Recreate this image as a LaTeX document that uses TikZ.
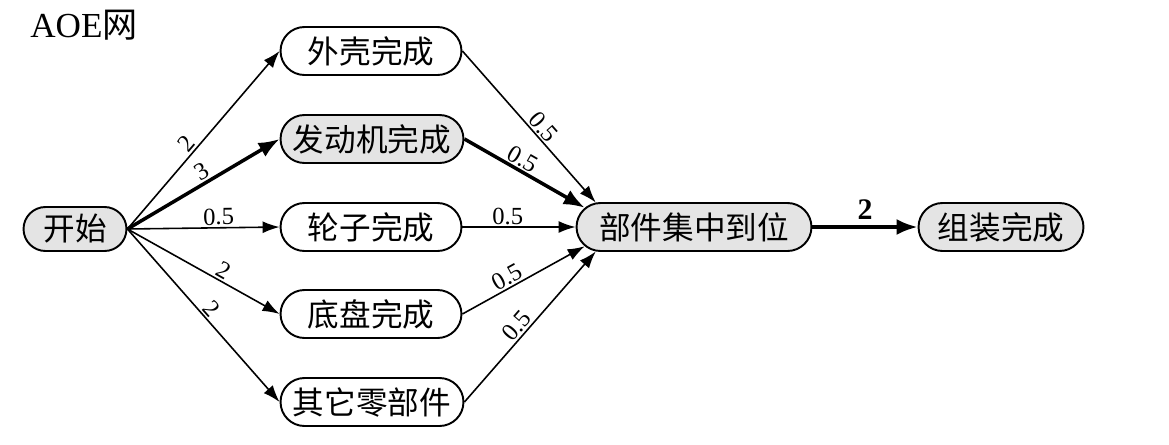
\documentclass[tikz,border=0pt]{standalone}
\usepackage{fontspec}
\setmainfont{Liberation Serif}
\newfontfamily\cjk{Noto Sans CJK SC}
\usetikzlibrary{positioning, arrows.meta, shapes.misc}
\definecolor{evgray}{HTML}{E4E4E4}

\begin{document}
\begin{tikzpicture}[x=0.02cm, y=-0.02cm,
    evt/.style={draw, rounded rectangle, line width=1.1pt, minimum height=0.96cm,
                inner sep=2pt, font=\cjk\fontsize{18}{20}\selectfont},
    shade/.style={evt, fill=evgray},
    arr/.style={-{Latex[length=3.4mm, width=2.4mm]}, line width=0.9pt},
    crit/.style={-{Latex[length=4.2mm, width=3.2mm]}, line width=2pt},
    wt/.style={font=\fontsize{14}{16}\selectfont, sloped, above, inner sep=1pt},
]
\useasboundingbox (0,0) rectangle (1169,444);
\node[anchor=west, inner sep=0pt, font=\fontsize{20}{22}\selectfont] (title) at (30,25) {AOE{\cjk 网}};

% events
\node[shade, minimum width=2.2cm, minimum height=0.88cm] (ks) at (75,229) {开始};
\node[evt, minimum width=3.76cm] (wk) at (371,51) {外壳完成};
\node[shade, minimum width=3.8cm] (fd) at (372,139) {发动机完成};
\node[evt, minimum width=3.76cm] (lz) at (371,227) {轮子完成};
\node[evt, minimum width=3.76cm] (dp) at (371,314) {底盘完成};
\node[evt, minimum width=3.8cm] (qt) at (372,402) {其它零部件};
\node[shade, minimum width=4.84cm] (bj) at (694,227) {部件集中到位};
\node[shade, minimum width=3.44cm] (zz) at (1001,227) {组装完成};

% activities
\draw[arr] (ks.east) -- (wk.west) node[wt, pos=0.44] {2};
\draw[crit] (ks.east) -- (fd.west) node[wt, pos=0.53] {3};
\draw[arr] (ks.east) -- (lz.west) node[wt, pos=0.6] {0.5};
\draw[arr] (ks.east) -- (dp.west) node[wt, pos=0.6] {2};
\draw[arr] (ks.east) -- (qt.west) node[wt, pos=0.5] {2};

\draw[arr] (wk.east) -- (bj.166) node[wt, pos=0.55] {0.5};
\draw[crit] (fd.east) -- (bj.170) node[wt, pos=0.44] {0.5};
\draw[arr] (lz.east) -- (bj.west) node[wt, pos=0.4] {0.5};
\draw[arr] (dp.east) -- (bj.190) node[wt, pos=0.41] {0.5};
\draw[arr] (qt.east) -- (bj.194) node[wt, pos=0.46] {0.5};

\draw[crit] (bj.east) -- (zz.west)
  node[midway, above, font=\fontsize{17}{19}\selectfont\bfseries] {2};
\end{tikzpicture}
\end{document}
